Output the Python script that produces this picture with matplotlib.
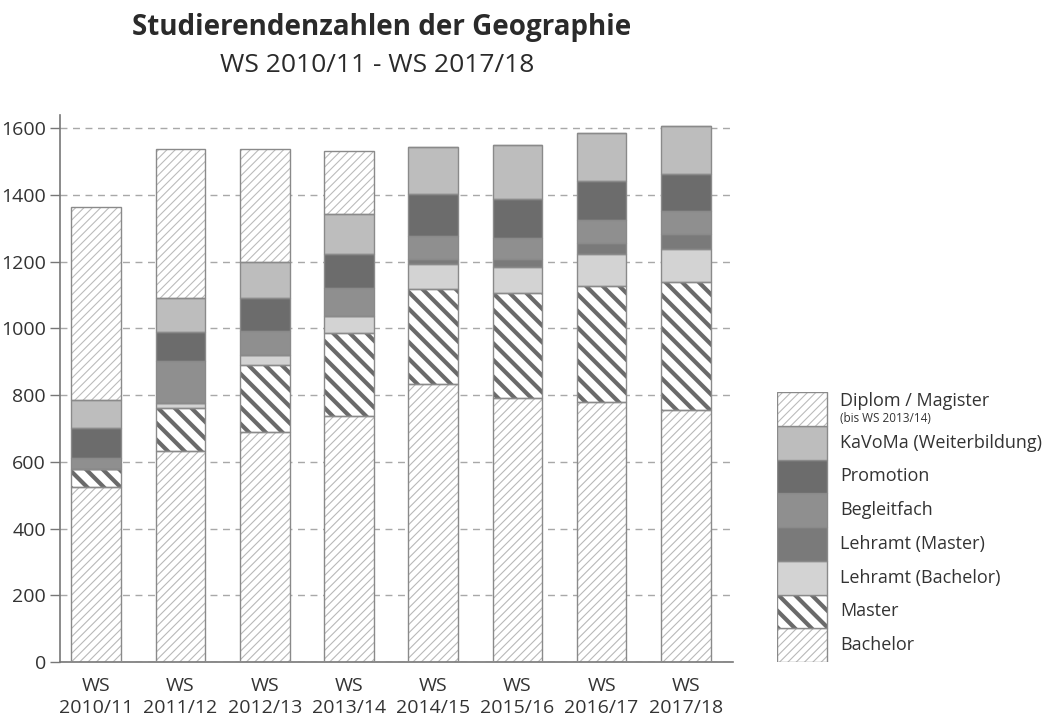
import numpy as np
import matplotlib.pyplot as plt
from matplotlib.patches import Rectangle

plt.rcParams['font.family'] = ['Open Sans', 'DejaVu Sans']

# Semester (x-Achse)
semester = ['WS\n2010/11', 'WS\n2011/12', 'WS\n2012/13', 'WS\n2013/14',
            'WS\n2014/15', 'WS\n2015/16', 'WS\n2016/17', 'WS\n2017/18']

# Studierende je Gruppe (von unten nach oben gestapelt)
bachelor = [525, 634, 691, 738, 833, 792, 779, 757]
master = [53, 128, 200, 248, 286, 313, 348, 382]
lehramt_bachelor = [0, 16, 28, 52, 75, 80, 96, 100]
lehramt_master = [0, 0, 0, 0, 14, 23, 33, 44]
begleitfach = [33, 124, 74, 84, 70, 62, 68, 69]
promotion = [90, 88, 97, 101, 124, 118, 119, 110]
kavoma = [86, 100, 110, 120, 143, 162, 144, 144]
diplom = [576, 449, 338, 189, 0, 0, 0, 0]

gruppen = [
    ('Bachelor', bachelor, dict(fill='white', hatch='////', hcol='#b8b8b8', hlw=0.8)),
    ('Master', master, dict(fill='white', hatch='\\\\', hcol='#6a6a6a', hlw=3.0)),
    ('Lehramt (Bachelor)', lehramt_bachelor, dict(fill='#d3d3d3')),
    ('Lehramt (Master)', lehramt_master, dict(fill='#7a7a7a')),
    ('Begleitfach', begleitfach, dict(fill='#8f8f8f')),
    ('Promotion', promotion, dict(fill='#6c6c6c')),
    ('KaVoMa (Weiterbildung)', kavoma, dict(fill='#bdbdbd')),
    ('Diplom / Magister', diplom, dict(fill='white', hatch='////', hcol='#bcbcbc', hlw=0.8)),
]

kante = '#8a8a8a'
textfarbe = '#333333'

fig = plt.figure(figsize=(10.46, 7.15), dpi=100)
ax = fig.add_axes([60/1046, 1-662/715, (733-60)/1046, (662-115)/715])

x = np.arange(len(semester))
breite = 0.59
boden = np.zeros(len(semester))

for name, werte, stil in gruppen:
    werte = np.array(werte, dtype=float)
    if 'hatch' in stil:
        plt.rcParams['hatch.linewidth'] = stil['hlw']
        bars = ax.bar(x, werte, breite, bottom=boden, color=stil['fill'],
                      edgecolor=stil['hcol'], hatch=stil['hatch'], linewidth=0, zorder=2)
        for b in bars:
            if hasattr(b, 'set_hatch_linewidth'):
                b.set_hatch_linewidth(stil['hlw'])
    else:
        ax.bar(x, werte, breite, bottom=boden, color=stil['fill'], linewidth=0, zorder=2)
    # Umrandung
    ax.bar(x, werte, breite, bottom=boden, fill=False, edgecolor=kante,
           linewidth=1.0, zorder=3)
    boden += werte

ax.set_xlim(-0.43, 7.56)
ax.set_ylim(0, 1640)
ax.set_yticks(range(0, 1601, 200))
ax.set_xticks(x)
ax.set_xticklabels(semester, linespacing=1.25)
ax.tick_params(axis='x', length=0, pad=11, labelsize=14, labelcolor=textfarbe)
ax.tick_params(axis='y', length=7, width=1, color='#777777', labelsize=14,
               labelcolor=textfarbe, pad=3)
ax.grid(axis='y', linestyle=(0, (5, 4)), color='#a8a8a8', linewidth=1, zorder=0)
ax.set_axisbelow(True)
for s in ['top', 'right']:
    ax.spines[s].set_visible(False)
for s in ['left', 'bottom']:
    ax.spines[s].set_color('#777777')
    ax.spines[s].set_linewidth(1.2)

# Titel
fig.text(382/1046, 1-28/715, 'Studierendenzahlen der Geographie', ha='center', va='center',
         fontsize=20, fontweight='bold', color='#2a2a2a')
fig.text(377/1046, 1-65/715, 'WS 2010/11 - WS 2017/18', ha='center', va='center',
         fontsize=19, color='#2a2a2a')

# Legende
lax = fig.add_axes([777/1046, 1-662/715, 269/1046, 270/715])
lax.set_xlim(0, 269)
lax.set_ylim(0, 270)
lax.axis('off')
h = 270 / len(gruppen)
for i, (name, werte, stil) in enumerate(gruppen):
    y0 = i * h
    if 'hatch' in stil:
        plt.rcParams['hatch.linewidth'] = stil['hlw']
        r = Rectangle((0, y0), 50, h, facecolor=stil['fill'], edgecolor=stil['hcol'],
                      hatch=stil['hatch'], linewidth=0)
        if hasattr(r, 'set_hatch_linewidth'):
            r.set_hatch_linewidth(stil['hlw'])
    else:
        r = Rectangle((0, y0), 50, h, facecolor=stil['fill'], linewidth=0)
    lax.add_patch(r)
    lax.add_patch(Rectangle((0, y0), 50, h, fill=False, edgecolor=kante, linewidth=1.0))
    if name.startswith('Diplom'):
        lax.text(63, y0 + h * 0.72, name, va='center', fontsize=13, color=textfarbe)
        lax.text(63, y0 + h * 0.2, '(bis WS 2013/14)', va='center', fontsize=8.5, color=textfarbe)
    else:
        lax.text(63, y0 + h / 2, name, va='center', fontsize=13, color=textfarbe)

fig.savefig('out.png', dpi=100)
